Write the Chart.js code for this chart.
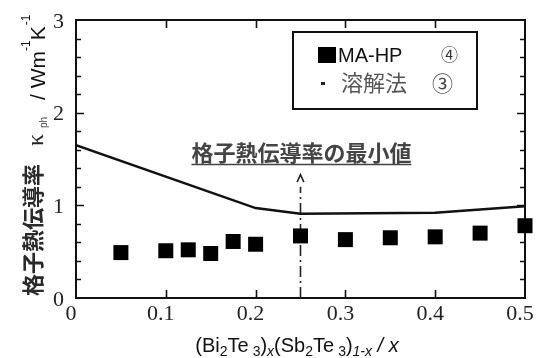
<!DOCTYPE html>
<html>
<head>
<meta charset="utf-8">
<script src="https://cdn.jsdelivr.net/npm/chart.js@4/dist/chart.umd.min.js"></script>
<style>
  html, body { margin: 0; padding: 0; background: #fff; }
  canvas { display: block; }
</style>
</head>
<body>
<canvas id="c" width="537" height="358"></canvas>
<script>
// Composition x of (Bi2Te3)x(Sb2Te3)1-x and measured lattice thermal conductivity (MA-HP samples)
const compX = [0.05, 0.1, 0.125, 0.15, 0.175, 0.2, 0.25, 0.3, 0.35, 0.4, 0.45, 0.5];
const maHpKappa = [0.49, 0.51, 0.52, 0.48, 0.61, 0.58, 0.67, 0.63, 0.65, 0.66, 0.70, 0.78];

// Solution-method (溶解法) curve
const meltX = [0, 0.2, 0.25, 0.4, 0.5];
const meltKappa = [1.65, 0.97, 0.91, 0.92, 0.99];

// Marker for the minimum lattice thermal conductivity
const minX = 0.25;
const minLineTop = 1.2;
const arrowTip = 1.33;
const arrowBase = 1.25;

// Tick labels
const xTickValues = [0, 0.1, 0.2, 0.3, 0.4, 0.5];
const xTickLabels = ['0', '0.1', '0.2', '0.3', '0.4', '0.5'];
const yTickValues = [0, 1, 2, 3];
const yTickLabels = ['0', '1', '2', '3'];

const CJK = '"Noto Sans CJK JP", "Noto Sans", sans-serif';
const SANS = '"Liberation Sans", Arial, sans-serif';
const SERIF = '"Liberation Serif", "Times New Roman", serif';

function drawRuns(ctx, x, y, runs) {
  let cx = x;
  for (const r of runs) {
    ctx.font = r.font;
    ctx.fillStyle = r.color || '#111';
    ctx.fillText(r.text, cx, y + (r.dy || 0));
    cx += ctx.measureText(r.text).width + (r.gap || 0);
  }
  return cx;
}
function runsWidth(ctx, runs) {
  let w = 0;
  for (const r of runs) { ctx.font = r.font; w += ctx.measureText(r.text).width + (r.gap || 0); }
  return w;
}

const framePlugin = {
  id: 'frame',
  beforeDatasetsDraw(chart) {
    const { ctx, chartArea: a, scales: { x, y } } = chart;
    ctx.save();
    ctx.strokeStyle = '#111';
    ctx.lineWidth = 2;
    ctx.strokeRect(a.left, a.top, a.right - a.left, a.bottom - a.top);
    ctx.lineWidth = 1.6;
    ctx.beginPath();
    // y ticks every 0.2 on both sides, longer at integers
    for (let i = 1; i < 15; i++) {
      const v = i * 0.2;
      const py = Math.round(y.getPixelForValue(v)) + 0.5;
      const len = (i % 5 === 0) ? 8 : 5;
      ctx.moveTo(a.left, py); ctx.lineTo(a.left + len, py);
      ctx.moveTo(a.right, py); ctx.lineTo(a.right - len, py);
    }
    // x ticks on bottom and top
    for (let i = 1; i < 5; i++) {
      const px = Math.round(x.getPixelForValue(i * 0.1)) + 0.5;
      ctx.moveTo(px, a.bottom); ctx.lineTo(px, a.bottom - 8);
      ctx.moveTo(px, a.top); ctx.lineTo(px, a.top + 8);
    }
    ctx.stroke();
    ctx.restore();
  },
  afterDraw(chart) {
    const { ctx, chartArea: a, scales: { x, y } } = chart;
    ctx.save();

    // tick labels
    ctx.fillStyle = '#222';
    ctx.font = '22px ' + SERIF;
    ctx.textAlign = 'right';
    ctx.textBaseline = 'middle';
    yTickValues.forEach((v, i) => {
      ctx.fillText(yTickLabels[i], a.left - 12, y.getPixelForValue(v) + 2);
    });
    ctx.textAlign = 'center';
    xTickValues.forEach((v, i) => {
      ctx.fillText(xTickLabels[i], x.getPixelForValue(v) - 5, a.bottom + 16);
    });

    // x axis title
    ctx.textAlign = 'left';
    ctx.textBaseline = 'alphabetic';
    const big = '20px ' + SANS, sub = '14px ' + SANS, subI = 'italic 14px ' + SANS, bigI = 'italic 20px ' + SANS;
    const xRuns = [
      { text: '(Bi', font: big }, { text: '2', font: sub, dy: 4 },
      { text: 'Te', font: big, gap: 4 }, { text: '3', font: sub, dy: 4 },
      { text: ')', font: big }, { text: 'x', font: subI, dy: 4 },
      { text: '(Sb', font: big }, { text: '2', font: sub, dy: 4 },
      { text: 'Te', font: big, gap: 4 }, { text: '3', font: sub, dy: 4 },
      { text: ')', font: big }, { text: '1-', font: subI, dy: 4 }, { text: 'x', font: subI, dy: 4 },
      { text: ' / ', font: bigI }, { text: 'x', font: bigI }
    ];
    const xw = runsWidth(ctx, xRuns);
    drawRuns(ctx, 297 - xw / 2, 352, xRuns);

    // y axis title (rotated, reading bottom to top)
    ctx.save();
    ctx.translate(0, 298);
    ctx.rotate(-Math.PI / 2);
    ctx.font = 'bold 22px ' + CJK;
    ctx.fillStyle = '#2a2a2a';
    ctx.fillText('格子熱伝導率', 2, 41);
    ctx.font = '24px ' + SERIF;
    ctx.fillStyle = '#222';
    ctx.fillText('κ', 152, 43);
    ctx.font = '10px ' + SANS;
    ctx.fillStyle = '#444';
    ctx.fillText('ph', 170, 47);
    const yRuns = [
      { text: '/ Wm', font: '21px ' + SANS },
      { text: '-1', font: '12px ' + SANS, dy: -15 },
      { text: 'K', font: '21px ' + SANS, gap: 1 },
      { text: '-1', font: '12px ' + SANS, dy: -15 }
    ];
    drawRuns(ctx, 198, 45, yRuns);
    ctx.restore();

    // annotation for the minimum value
    const ax = x.getPixelForValue(minX);
    ctx.font = 'bold 22px ' + CJK;
    ctx.fillStyle = '#444';
    ctx.textAlign = 'center';
    ctx.textBaseline = 'alphabetic';
    const note = '格子熱伝導率の最小値';
    const nw = ctx.measureText(note).width;
    ctx.fillText(note, ax + 1, 161);
    ctx.strokeStyle = '#444';
    ctx.lineWidth = 1.5;
    ctx.beginPath();
    ctx.moveTo(ax + 1 - nw / 2, 164.5);
    ctx.lineTo(ax + 1 + nw / 2, 164.5);
    ctx.stroke();

    // legend box
    ctx.lineWidth = 2;
    ctx.strokeStyle = '#111';
    ctx.strokeRect(293, 32, 184, 77);
    ctx.fillStyle = '#000';
    ctx.fillRect(318, 47, 18, 16);
    ctx.textAlign = 'left';
    ctx.font = '20px ' + SANS;
    ctx.fillStyle = '#111';
    ctx.fillText('MA-HP', 338, 62);
    ctx.font = '17px ' + CJK;
    ctx.fillStyle = '#333';
    ctx.fillText('④', 441, 61);
    ctx.fillStyle = '#222';
    ctx.fillRect(321, 82, 4, 3);
    ctx.font = '22px ' + CJK;
    ctx.fillStyle = '#555';
    ctx.fillText('溶解法', 341, 91);
    ctx.font = '21px ' + CJK;
    ctx.fillStyle = '#444';
    ctx.fillText('③', 432, 91);

    ctx.restore();
  }
};

const data = {
  datasets: [
    {
      label: '溶解法',
      data: meltX.map((v, i) => ({ x: v, y: meltKappa[i] })),
      showLine: true,
      borderColor: '#111',
      borderWidth: 2.5,
      pointRadius: 0,
      fill: false,
      tension: 0
    },
    {
      label: 'MA-HP',
      data: compX.map((v, i) => ({ x: v, y: maHpKappa[i] })),
      showLine: false,
      pointStyle: 'rect',
      pointRadius: 10.6,
      backgroundColor: '#000',
      borderColor: '#000',
      borderWidth: 0,
      clip: false
    },
    {
      label: 'min',
      data: [{ x: minX, y: 0 }, { x: minX, y: minLineTop }],
      showLine: true,
      borderColor: '#222',
      borderWidth: 1.6,
      borderDash: [11, 4, 2, 4],
      pointRadius: 0
    },
    {
      label: 'arrow',
      data: [{ x: minX - 0.0038, y: arrowBase }, { x: minX, y: arrowTip }, { x: minX + 0.0038, y: arrowBase }],
      showLine: true,
      borderColor: '#222',
      borderWidth: 1.6,
      pointRadius: 0
    }
  ]
};

new Chart(document.getElementById('c'), {
  type: 'scatter',
  data,
  options: {
    responsive: false,
    animation: false,
    devicePixelRatio: 1,
    layout: { padding: { left: 76, right: 12, top: 20, bottom: 60 } },
    scales: {
      x: { type: 'linear', min: 0, max: 0.5, display: false },
      y: { type: 'linear', min: 0, max: 3, display: false }
    },
    plugins: {
      legend: { display: false },
      tooltip: { enabled: false }
    }
  },
  plugins: [framePlugin]
});
</script>
</body>
</html>
